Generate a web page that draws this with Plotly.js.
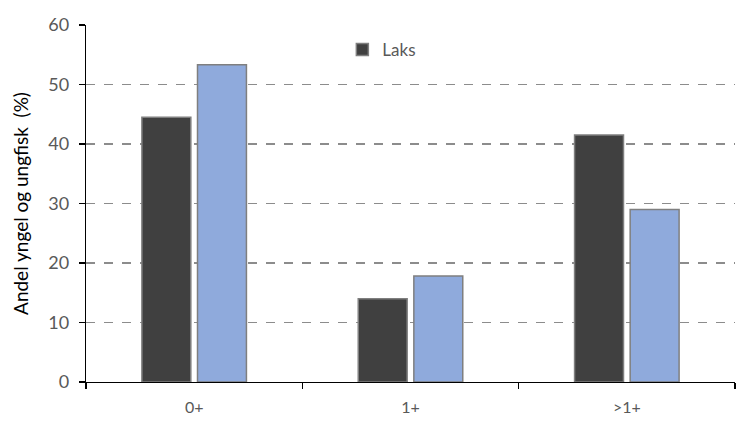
<!DOCTYPE html>
<html><head><meta charset="utf-8">
<script src="https://cdn.plot.ly/plotly-3.0.1.min.js"></script>
<style>body{margin:0;background:#fff}#c{width:736px;height:422px}</style>
</head><body><div id="c"></div>
<script>
var categories = ["0+", "1+", ">1+"];
var laks = [44.5, 14.0, 41.5];
var series2 = [53.3, 17.8, 29.0];
var yTicks = [0, 10, 20, 30, 40, 50, 60];

var font = "Lato, 'Open Sans', sans-serif";
var traces = [
  {type:"bar", x:categories, y:laks, name:"Laks",
   marker:{color:"#404040", line:{color:"#7f7f7f", width:1.5}}},
  {type:"bar", x:categories, y:series2, name:"", showlegend:false,
   marker:{color:"#8faadc", line:{color:"#7f7f7f", width:1.5}}}
];
var layout = {
  width:736, height:422,
  margin:{l:86, r:1, t:25, b:40},
  paper_bgcolor:"#fff", plot_bgcolor:"#fff",
  barmode:"group", bargap:0.486, bargroupgap:0.12,
  font:{family:font, size:17, color:"#595959"},
  showlegend:true,
  legend:{x:0.395, y:0.93, xanchor:"left", yanchor:"middle", bgcolor:"rgba(0,0,0,0)",
          itemwidth:30, font:{family:font, size:17, color:"#595959"}},
  xaxis:{type:"category", showline:true, linecolor:"#000", linewidth:1.3,
         ticks:"outside", tickson:"boundaries", ticklen:6, tickcolor:"#000", tickwidth:1.3,
         ticklabelstandoff:10,
         showgrid:false, tickfont:{family:font, size:16, color:"#595959"}},
  yaxis:{range:[0,60], tickvals:yTicks, showline:true, linecolor:"#000", linewidth:1.3,
         ticks:"outside", ticklen:6, tickcolor:"#000", tickwidth:1.3,
         ticklabelstandoff:6,
         showgrid:true, gridcolor:"#8c8c8c", griddash:"dash", gridwidth:1.2, zeroline:false,
         tickfont:{family:font, size:18, color:"#595959"},
         title:{text:"Andel yngel og ungfisk  (%)", font:{family:font, size:19, color:"#000"}, standoff:14}}
};
Plotly.newPlot("c", traces, layout, {displayModeBar:false, staticPlot:true});
</script></body></html>
